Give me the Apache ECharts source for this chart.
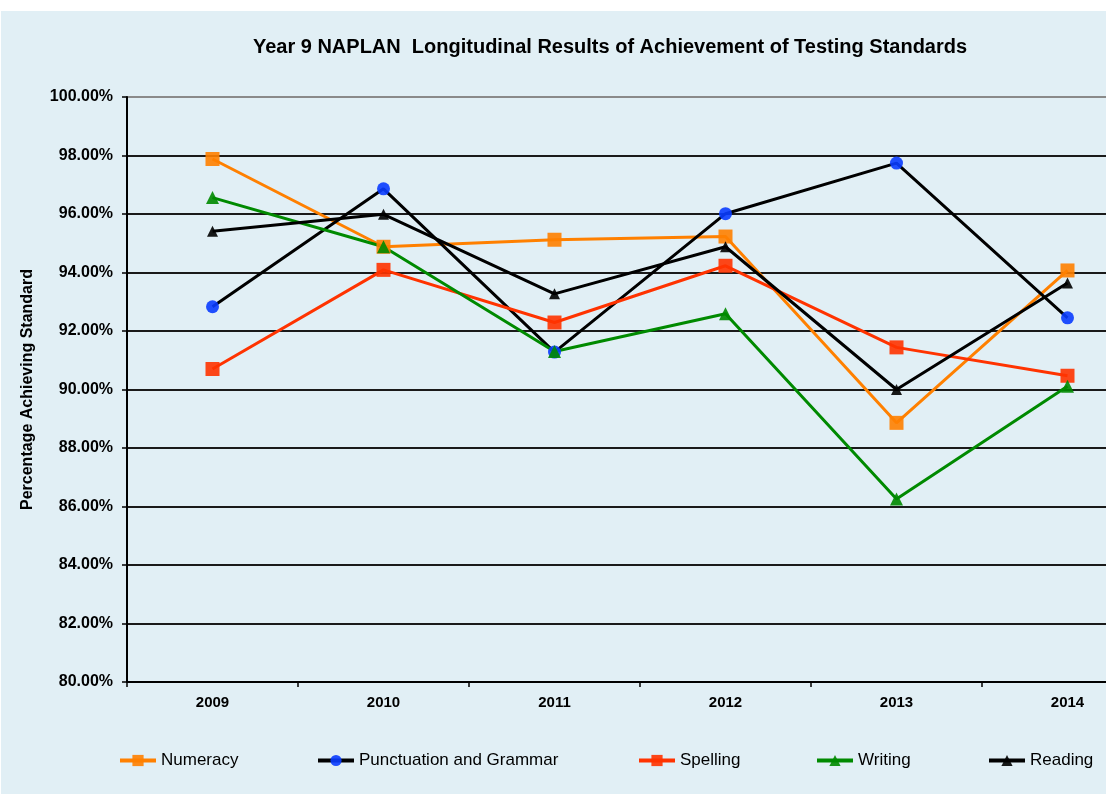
<!DOCTYPE html>
<html>
<head>
<meta charset="utf-8">
<script src="https://cdn.jsdelivr.net/npm/echarts@6/dist/echarts.min.js"></script>
<style>
html,body{margin:0;padding:0;background:#ffffff;overflow:hidden;width:1106px;height:794px;}
#bg{position:absolute;left:1px;top:11px;width:1105px;height:783px;background:#E1EFF5;}
#chart{position:absolute;left:0;top:0;width:1153px;height:794px;}
</style>
</head>
<body>
<div id="bg"></div>
<div id="chart"></div>
<script>
const years = ['2009', '2010', '2011', '2012', '2013', '2014'];
const numeracy = [97.88, 94.88, 95.12, 95.23, 88.86, 94.07];
const punctuation = [92.83, 96.86, 91.28, 96.01, 97.74, 92.45];
const spelling = [90.70, 94.09, 92.29, 94.23, 91.44, 90.47];
const writing = [96.56, 94.88, 91.30, 92.59, 86.26, 90.11];
const reading = [95.41, 95.99, 93.27, 94.88, 90.00, 93.64];
const yTicks = [80, 82, 84, 86, 88, 90, 92, 94, 96, 98, 100];

const FONT = '"Liberation Sans", Arial, sans-serif';

const seriesDefs = [
  {name: 'Numeracy', data: numeracy, line: '#FF8000', mark: '#FF8000', symbol: 'rect', size: 14},
  {name: 'Punctuation and Grammar', data: punctuation, line: '#000000', mark: '#0A3CFF', symbol: 'circle', size: 13},
  {name: 'Spelling', data: spelling, line: '#FF3300', mark: '#FF3300', symbol: 'rect', size: 14},
  {name: 'Writing', data: writing, line: '#008A00', mark: '#008A00', symbol: 'triangle', size: 13},
  {name: 'Reading', data: reading, line: '#000000', mark: '#000000', symbol: 'triangle', size: 11}
];
const legendLeft = [113, 311, 632, 810, 982];

const chart = echarts.init(document.getElementById('chart'));
const gridColors = yTicks.map((v, i) => i === yTicks.length - 1 ? '#8a8a8a' : '#1a1a1a');

chart.setOption({
  animation: false,
  backgroundColor: 'transparent',
  title: {
    text: 'Year 9 NAPLAN  Longitudinal Results of Achievement of Testing Standards',
    left: 605,
    textAlign: 'center',
    top: 32,
    textStyle: {fontFamily: FONT, fontWeight: 'bold', fontSize: 20, color: '#000'}
  },
  legend: seriesDefs.map((s, i) => ({
    data: [s.name],
    left: legendLeft[i],
    top: 747,
    itemWidth: 36,
    itemHeight: 14,
    itemGap: 0,
    lineStyle: {width: 4},
    textStyle: {fontFamily: FONT, fontSize: 17, color: '#000'}
  })),
  grid: {left: 127, top: 97, right: 0, bottom: 112, containLabel: false},
  xAxis: {
    type: 'category',
    data: years,
    boundaryGap: true,
    axisLine: {lineStyle: {color: '#000', width: 2}},
    axisTick: {show: true, length: 5, lineStyle: {color: '#000', width: 1.5}},
    axisLabel: {fontFamily: FONT, fontWeight: 'bold', fontSize: 15, color: '#000', margin: 13},
    splitLine: {show: false}
  },
  yAxis: {
    type: 'value',
    min: 80,
    max: 100,
    interval: 2,
    name: 'Percentage Achieving Standard',
    nameLocation: 'middle',
    nameRotate: 90,
    nameGap: 91,
    nameTextStyle: {fontFamily: FONT, fontWeight: 'bold', fontSize: 16, color: '#000'},
    axisLine: {show: true, lineStyle: {color: '#000', width: 2}},
    axisTick: {show: true, length: 5, lineStyle: {color: '#000', width: 1.5}},
    axisLabel: {fontFamily: FONT, fontWeight: 'bold', fontSize: 16, color: '#000', margin: 14,
      formatter: v => v.toFixed(2) + '%'},
    splitLine: {show: true, lineStyle: {color: gridColors, width: 2}}
  },
  series: seriesDefs.map(s => ({
    name: s.name,
    type: 'line',
    data: s.data,
    symbol: s.symbol,
    symbolSize: s.size,
    showAllSymbol: true,
    lineStyle: {color: s.line, width: 3},
    itemStyle: {color: s.mark, borderWidth: 0, opacity: 0.9}
  }))
});
</script>
</body>
</html>
